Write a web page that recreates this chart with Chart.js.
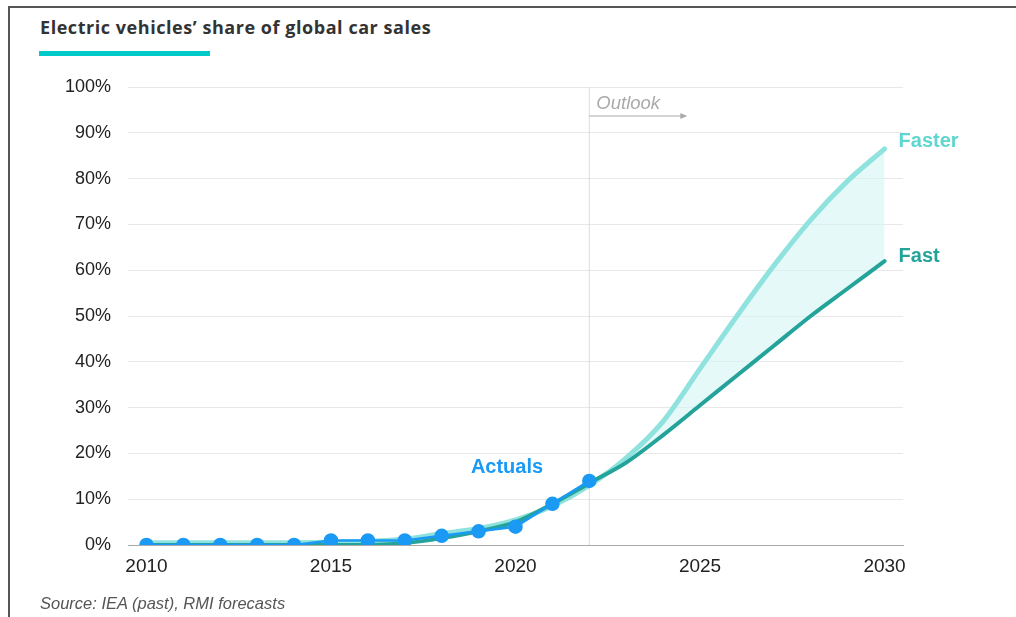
<!DOCTYPE html>
<html>
<head>
<meta charset="utf-8">
<script src="https://cdn.jsdelivr.net/npm/chart.js@4"></script>
<style>
  html, body { margin: 0; padding: 0; background: #fff; }
  #wrap { position: relative; width: 1016px; height: 617px; overflow: hidden; }
  #frame { position: absolute; left: 8px; top: 6px; width: 1100px; height: 700px; border: 2px solid #555; box-sizing: border-box; }
  #title { position: absolute; left: 40px; top: 15px; font: bold 18px "Open Sans", Lato, sans-serif; color: #333; letter-spacing: 0.55px; }
  #bar { position: absolute; left: 39px; top: 51px; width: 171px; height: 5px; background: #00c9c9; }
  #source { position: absolute; left: 40px; top: 594px; font: italic 16.5px "Liberation Sans", Arial, sans-serif; color: #555; }
  canvas { position: absolute; left: 0; top: 0; }
</style>
</head>
<body>
<div id="wrap">
  <div id="frame"></div>
  <div id="title">Electric vehicles’ share of global car sales</div>
  <div id="bar"></div>
  <canvas id="evChart" width="1016" height="617"></canvas>
  <div id="source">Source: IEA (past), RMI forecasts</div>
</div>
<script>
const years = [2010, 2011, 2012, 2013, 2014, 2015, 2016, 2017, 2018, 2019, 2020, 2021, 2022, 2023, 2024, 2025, 2026, 2027, 2028, 2029, 2030];
const actuals = [0, 0, 0, 0, 0, 1, 1, 1, 2, 3, 4, 9, 14];
const faster = [0.5, 0.5, 0.5, 0.5, 0.5, 0.6, 0.8, 1.3, 2.5, 3.6, 5.5, 8.5, 13, 19, 27, 38.5, 50, 61, 71, 79.5, 86.5];
const fast = [0, 0, 0, 0, 0, 0, 0, 0.4, 1.5, 3, 5, 9, 13.5, 18, 24, 30.5, 37, 43.5, 50, 56, 62];
const xTicks = [2010, 2015, 2020, 2025, 2030];
const outlookYear = 2022;

const toPoints = (vals) => vals.map((v, i) => ({ x: years[i], y: v }));

const annotations = {
  id: 'annotations',
  beforeDatasetsDraw(chart) {
    const { ctx, scales: { x }, chartArea } = chart;
    const px = x.getPixelForValue(outlookYear);
    ctx.save();
    ctx.strokeStyle = '#dcdcdc';
    ctx.lineWidth = 1;
    ctx.beginPath();
    ctx.moveTo(px, chartArea.top);
    ctx.lineTo(px, chartArea.bottom);
    ctx.stroke();
    ctx.restore();
  },
  afterDatasetsDraw(chart) {
    const { ctx, scales: { x, y }, chartArea } = chart;
    const px = x.getPixelForValue(outlookYear);
    ctx.save();
    ctx.font = 'italic 18.5px "Liberation Sans", Arial, sans-serif';
    ctx.fillStyle = '#aaa';
    ctx.textBaseline = 'middle';
    ctx.fillText('Outlook', px + 7, chartArea.top + 17);
    ctx.strokeStyle = '#aaa';
    ctx.lineWidth = 1;
    ctx.beginPath();
    ctx.moveTo(px, chartArea.top + 29);
    ctx.lineTo(px + 93, chartArea.top + 29);
    ctx.stroke();
    ctx.fillStyle = '#aaa';
    ctx.beginPath();
    ctx.moveTo(px + 98, chartArea.top + 29);
    ctx.lineTo(px + 91, chartArea.top + 26);
    ctx.lineTo(px + 91, chartArea.top + 32);
    ctx.fill();

    ctx.font = 'bold 20px "Liberation Sans", Arial, sans-serif';
    ctx.textBaseline = 'middle';
    const last = years.length - 1;
    ctx.fillStyle = '#5fd6cf';
    ctx.fillText('Faster', x.getPixelForValue(years[last]) + 14, y.getPixelForValue(faster[last]) - 7);
    ctx.fillStyle = '#23a39a';
    ctx.fillText('Fast', x.getPixelForValue(years[last]) + 14, y.getPixelForValue(fast[last]) - 5);
    ctx.fillStyle = '#1a9af5';
    ctx.textAlign = 'center';
    ctx.fillText('Actuals', x.getPixelForValue(2019.77), y.getPixelForValue(16.9));
    ctx.restore();
  }
};

new Chart(document.getElementById('evChart'), {
  type: 'line',
  data: {
    datasets: [
      {
        label: 'Actuals',
        data: toPoints(actuals),
        borderColor: '#1a9af5',
        backgroundColor: '#1a9af5',
        borderWidth: 2.5,
        pointRadius: 6,
        pointHoverRadius: 6,
        tension: 0,
        order: 0
      },
      {
        label: 'Fast',
        data: toPoints(fast),
        borderColor: '#23a39a',
        borderWidth: 4,
        pointRadius: 0,
        borderCapStyle: 'round',
        tension: 0.3,
        order: 1
      },
      {
        label: 'Faster',
        data: toPoints(faster),
        borderColor: '#8fe2dd',
        backgroundColor: 'rgba(214, 245, 245, 0.6)',
        fill: 1,
        borderWidth: 5,
        pointRadius: 0,
        borderCapStyle: 'round',
        tension: 0.3,
        order: 2
      }
    ]
  },
  plugins: [annotations],
  options: {
    responsive: false,
    animation: false,
    layout: { padding: { top: 87, right: 113, left: 0, bottom: 0 } },
    plugins: { legend: { display: false }, tooltip: { enabled: false } },
    scales: {
      x: {
        type: 'linear',
        min: 2009.5,
        max: 2030.5,
        afterBuildTicks: (scale) => { scale.ticks = xTicks.map(v => ({ value: v })); },
        afterFit: (scale) => { scale.height = 72; },
        grid: { display: false, drawTicks: false },
        border: { display: true, color: '#aaa', width: 1 },
        ticks: {
          padding: 10,
          color: '#222',
          font: { family: '"Liberation Sans", Arial, sans-serif', size: 19 },
          callback: (v) => String(v)
        }
      },
      y: {
        min: 0,
        max: 100,
        afterFit: (scale) => { scale.width = 128; },
        grid: { color: '#e8e8e8', drawTicks: false },
        border: { display: false },
        ticks: {
          stepSize: 10,
          padding: 17,
          color: '#222',
          font: { family: '"Liberation Sans", Arial, sans-serif', size: 18 },
          callback: (v) => v + '%'
        }
      }
    }
  }
});
</script>
</body>
</html>
